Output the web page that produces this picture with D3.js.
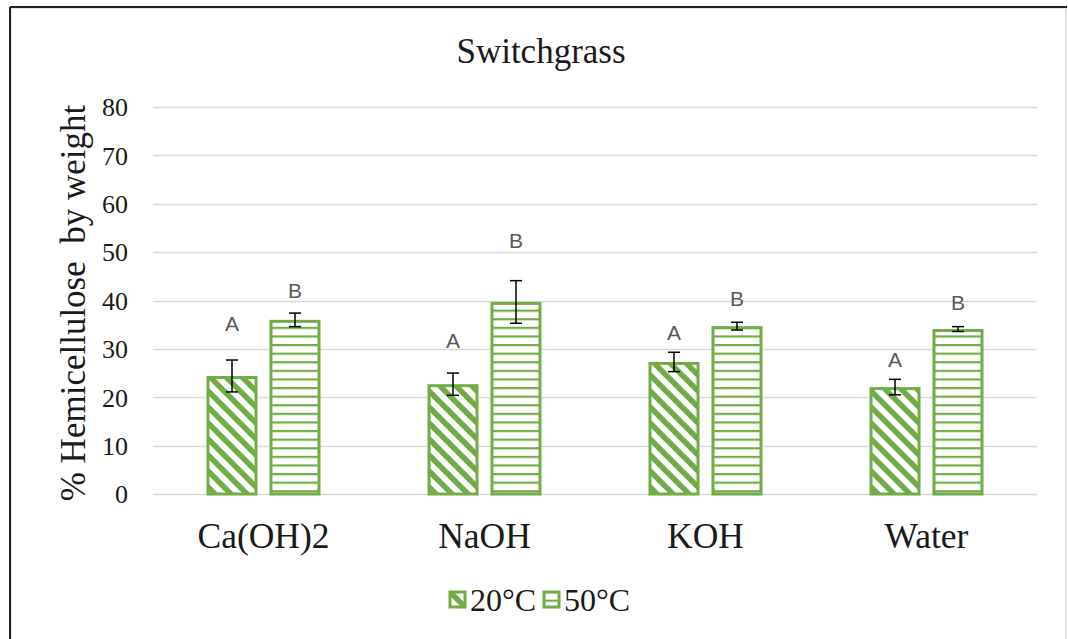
<!DOCTYPE html>
<html>
<head>
<meta charset="utf-8">
<script src="https://cdn.jsdelivr.net/npm/d3@7"></script>
<style>
  html, body { margin: 0; padding: 0; background: #fff; }
  svg { display: block; }
</style>
</head>
<body>
<svg id="chart" width="1068" height="639"></svg>
<script>
// Hemicellulose content of switchgrass by pretreatment and temperature
const categories = ["Ca(OH)2", "NaOH", "KOH", "Water"];
const seriesNames = ["20°C", "50°C"];
const values20 = [24.4, 22.7, 27.3, 22.1];
const values50 = [36.0, 39.7, 34.7, 34.1];
const errors20 = [3.3, 2.3, 2.0, 1.6];
const errors50 = [1.4, 4.4, 0.8, 0.5];
const letters20 = ["A", "A", "A", "A"];
const letters50 = ["B", "B", "B", "B"];
const letterAt20 = [35.3, 31.8, 33.3, 27.9];
const letterAt50 = [42.1, 52.5, 40.5, 39.7];
const yTicks = [0, 10, 20, 30, 40, 50, 60, 70, 80];

const green = "#70ad47";
const serif = "'Liberation Serif', 'Times New Roman', serif";
const sans = "'Liberation Sans', Arial, sans-serif";

const svg = d3.select("#chart");

// frame
svg.append("rect").attr("x", 11).attr("y", 8).attr("width", 1055).attr("height", 640)
  .attr("fill", "#fff").attr("stroke", "#d9d9d9").attr("stroke-width", 1.5);
svg.append("line").attr("x1", 10).attr("x2", 1067).attr("y1", 7).attr("y2", 7)
  .attr("stroke", "#222").attr("stroke-width", 2);
svg.append("line").attr("x1", 10).attr("x2", 10).attr("y1", 7).attr("y2", 639)
  .attr("stroke", "#222").attr("stroke-width", 2);

// fill patterns
const defs = svg.append("defs");
const diag = defs.append("pattern").attr("id", "diag")
  .attr("patternUnits", "userSpaceOnUse").attr("width", 16).attr("height", 16);
diag.append("rect").attr("width", 16).attr("height", 16).attr("fill", "#fff");
diag.append("path").attr("d", "M-4,-4 L20,20 M-4,12 L4,20 M12,-4 L20,4")
  .attr("stroke", green).attr("stroke-width", 5.5);
const horiz = defs.append("pattern").attr("id", "horiz")
  .attr("patternUnits", "userSpaceOnUse").attr("width", 8).attr("height", 8.6);
horiz.append("rect").attr("width", 8).attr("height", 8.6).attr("fill", "#fff");
horiz.append("rect").attr("y", 0).attr("width", 8).attr("height", 2.2).attr("fill", green);
const fills = ["url(#diag)", "url(#horiz)"];

// scales
const y = d3.scaleLinear().domain([0, 80]).range([494, 107]);
const x0 = d3.scaleBand().domain(categories).range([153, 1037]);
const clusterW = 114;
const x1 = d3.scaleBand().domain(seriesNames)
  .range([(x0.bandwidth() - clusterW) / 2, (x0.bandwidth() + clusterW) / 2])
  .paddingInner(0.19);

// gridlines
svg.append("g").selectAll("line").data(yTicks).join("line")
  .attr("x1", 153).attr("x2", 1037)
  .attr("y1", d => Math.round(y(d)) + 0.5).attr("y2", d => Math.round(y(d)) + 0.5)
  .attr("stroke", "#d9d9d9").attr("stroke-width", 1.3);

// y axis labels
const yAxis = svg.append("g").attr("transform", "translate(128,0)")
  .call(d3.axisLeft(y).tickValues(yTicks).tickSize(0).tickPadding(0));
yAxis.select(".domain").remove();
yAxis.selectAll("text").attr("font-family", serif).attr("font-size", 26)
  .attr("fill", "#1a1a1a").attr("dy", "0.34em");

// x axis labels
const xAxis = svg.append("g").attr("transform", "translate(0,494)")
  .call(d3.axisBottom(x0).tickSize(0).tickPadding(0));
xAxis.select(".domain").remove();
xAxis.selectAll("text").attr("font-family", serif).attr("font-size", 35.5)
  .attr("fill", "#1a1a1a").attr("dy", "0").attr("y", 54);

// rows of data
const rows = categories.map((c, i) => ({
  cat: c,
  items: [
    { s: seriesNames[0], v: values20[i], e: errors20[i], l: letters20[i], ly: letterAt20[i], k: 0 },
    { s: seriesNames[1], v: values50[i], e: errors50[i], l: letters50[i], ly: letterAt50[i], k: 1 }
  ]
}));

const groups = svg.append("g").selectAll("g").data(rows).join("g")
  .attr("transform", d => `translate(${x0(d.cat)},0)`);

// bars
groups.selectAll("rect.bar").data(d => d.items).join("rect").attr("class", "bar")
  .attr("x", d => x1(d.s) + 1.5)
  .attr("width", x1.bandwidth() - 3)
  .attr("y", d => y(d.v) + 1.5)
  .attr("height", d => y(0) - y(d.v) - 1.5)
  .attr("fill", d => fills[d.k])
  .attr("stroke", green).attr("stroke-width", 3);

// error bars
const eb = groups.selectAll("g.err").data(d => d.items).join("g").attr("class", "err")
  .attr("transform", d => `translate(${x1(d.s) + x1.bandwidth() / 2},0)`);
eb.append("line").attr("y1", d => y(d.v + d.e)).attr("y2", d => y(d.v - d.e))
  .attr("stroke", "#000").attr("stroke-width", 1.5);
eb.append("line").attr("x1", -6).attr("x2", 6)
  .attr("y1", d => y(d.v + d.e)).attr("y2", d => y(d.v + d.e))
  .attr("stroke", "#000").attr("stroke-width", 1.5);
eb.append("line").attr("x1", -6).attr("x2", 6)
  .attr("y1", d => y(d.v - d.e)).attr("y2", d => y(d.v - d.e))
  .attr("stroke", "#000").attr("stroke-width", 1.5);

// significance letters
groups.selectAll("text.sig").data(d => d.items).join("text").attr("class", "sig")
  .attr("x", d => x1(d.s) + x1.bandwidth() / 2)
  .attr("y", d => y(d.ly))
  .attr("dy", "0.36em")
  .attr("text-anchor", "middle")
  .attr("font-family", sans).attr("font-size", 21).attr("fill", "#595959")
  .text(d => d.l);

// title
svg.append("text").attr("x", 541).attr("y", 63).attr("text-anchor", "middle")
  .attr("font-family", serif).attr("font-size", 35).attr("fill", "#1a1a1a")
  .text("Switchgrass");

// y axis title
svg.append("text").attr("transform", "translate(85,303) rotate(-90)")
  .attr("text-anchor", "middle")
  .attr("font-family", serif).attr("font-size", 35).attr("fill", "#1a1a1a")
  .style("white-space", "pre")
  .text("% Hemicellulose  by weight");

// legend
const legend = svg.append("g");
const legendItems = [
  { name: seriesNames[0], x: 449, k: 0 },
  { name: seriesNames[1], x: 543, k: 1 }
];
const li = legend.selectAll("g").data(legendItems).join("g")
  .attr("transform", d => `translate(${d.x},591)`);
li.append("rect").attr("x", 1).attr("y", 1).attr("width", 15).attr("height", 15)
  .attr("fill", d => fills[d.k]).attr("stroke", green).attr("stroke-width", 3);
li.append("text").attr("x", 21).attr("y", 20)
  .attr("font-family", serif).attr("font-size", 32).attr("fill", "#1a1a1a")
  .text(d => d.name);
</script>
</body>
</html>
